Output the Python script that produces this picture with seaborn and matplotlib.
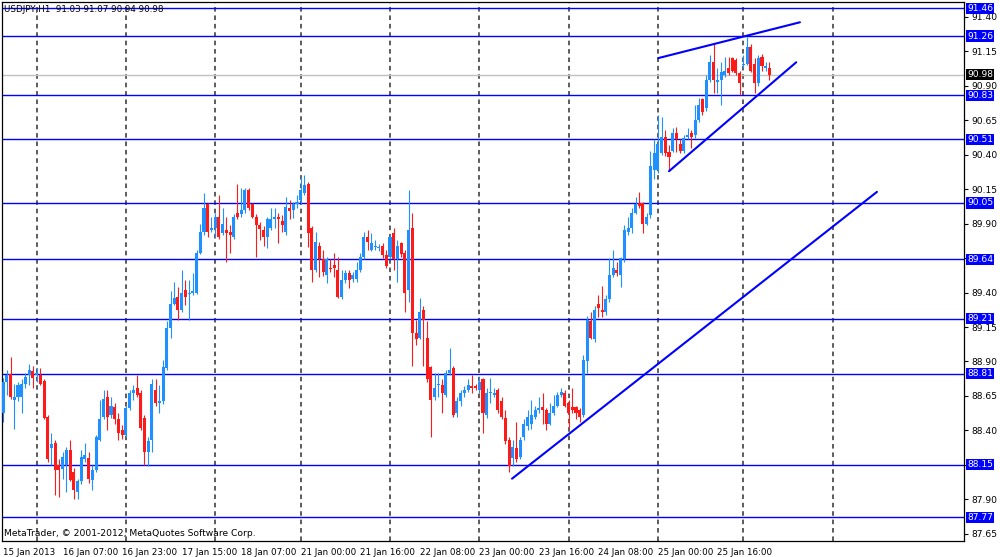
import numpy as np
import pandas as pd
import matplotlib
matplotlib.use("Agg")
import matplotlib.pyplot as plt
import matplotlib.transforms as mtransforms
import seaborn as sns

# USDJPY H1 candles (oldest first)
opens = [
    88.53, 88.75, 88.81, 88.62, 88.64, 88.64, 88.74, 88.80, 88.83, 88.80,
    88.80, 88.76, 88.50, 88.27, 88.31, 88.15, 88.12, 88.15, 88.26, 88.10,
    87.95, 88.03, 88.19, 88.20, 88.04, 88.11, 88.33, 88.50, 88.64, 88.51,
    88.57, 88.48, 88.40, 88.37, 88.56, 88.67, 88.71, 88.67, 88.49, 88.24,
    88.33, 88.69, 88.60, 88.61, 88.85, 89.14, 89.32, 89.37, 89.27, 89.42,
    89.39, 89.40, 89.40, 89.69, 89.84, 90.04, 89.85, 89.87, 89.95, 89.83,
    89.85, 89.84, 89.80, 89.98, 89.97, 90.00, 90.14, 90.04, 89.95, 89.89,
    89.85, 89.80, 89.87, 89.93, 89.95, 89.92, 89.84, 90.01, 90.00, 90.04,
    90.07, 90.12, 90.19, 89.87, 89.56, 89.74, 89.64, 89.53, 89.58, 89.60,
    89.56, 89.37, 89.49, 89.54, 89.50, 89.50, 89.56, 89.66, 89.80, 89.71,
    89.73, 89.72, 89.74, 89.67, 89.66, 89.83, 89.64, 89.76, 89.69, 89.42,
    89.87, 89.11, 89.07, 89.27, 89.07, 88.86, 88.64, 88.73, 88.73, 88.66,
    88.82, 88.85, 88.53, 88.61, 88.67, 88.69, 88.72, 88.72, 88.69, 88.77,
    88.51, 88.67, 88.66, 88.69, 88.61, 88.49, 88.33, 88.20, 88.27, 88.21,
    88.35, 88.43, 88.45, 88.50, 88.55, 88.57, 88.55, 88.45, 88.53, 88.58,
    88.66, 88.67, 88.60, 88.57, 88.57, 88.55, 88.51, 88.90, 89.19, 89.06,
    89.32, 89.27, 89.26, 89.35, 89.53, 89.56, 89.53, 89.64, 89.84, 89.87,
    89.98, 90.05, 90.05, 89.90, 89.96, 90.29, 90.29, 90.41, 90.53, 90.42,
    90.43, 90.56, 90.48, 90.43, 90.53, 90.56, 90.54, 90.65, 90.80, 90.74,
    90.94, 91.07, 90.93, 90.94, 90.98, 91.03, 91.10, 91.09, 90.99, 91.05,
    91.06, 91.18, 91.06, 90.92, 91.11, 91.03, 91.03,
]
highs = [
    88.78, 88.84, 88.93, 88.74, 88.75, 88.77, 88.82, 88.88, 88.87, 88.85,
    88.85, 88.77, 88.51, 88.38, 88.33, 88.19, 88.24, 88.28, 88.33, 88.13,
    88.05, 88.26, 88.31, 88.24, 88.15, 88.37, 88.62, 88.69, 88.69, 88.64,
    88.60, 88.53, 88.44, 88.58, 88.69, 88.73, 88.80, 88.69, 88.51, 88.35,
    88.77, 88.77, 88.73, 88.91, 89.19, 89.41, 89.48, 89.44, 89.56, 89.49,
    89.49, 89.54, 89.71, 89.90, 90.12, 90.05, 89.95, 89.98, 90.11, 90.01,
    89.95, 89.89, 89.97, 90.19, 90.16, 90.16, 90.16, 90.05, 89.97, 89.91,
    89.88, 89.95, 90.01, 90.01, 89.98, 89.96, 90.09, 90.07, 90.06, 90.11,
    90.24, 90.25, 90.20, 89.88, 89.84, 89.77, 89.71, 89.66, 89.64, 89.69,
    89.66, 89.56, 89.56, 89.56, 89.55, 89.62, 89.69, 89.84, 89.85, 89.83,
    89.78, 89.75, 89.76, 89.71, 89.82, 89.87, 89.78, 89.77, 89.71, 90.14,
    89.98, 89.20, 89.36, 89.30, 89.19, 88.87, 88.82, 88.82, 88.77, 88.84,
    89.00, 88.87, 88.64, 88.69, 88.72, 88.77, 88.80, 88.74, 88.79, 88.78,
    88.71, 88.78, 88.71, 88.71, 88.64, 88.55, 88.35, 88.33, 88.46, 88.35,
    88.48, 88.55, 88.62, 88.58, 88.64, 88.67, 88.56, 88.60, 88.66, 88.68,
    88.71, 88.69, 88.62, 88.71, 88.58, 88.56, 88.95, 89.23, 89.26, 89.30,
    89.38, 89.45, 89.38, 89.65, 89.71, 89.62, 89.66, 89.89, 89.95, 90.01,
    90.09, 90.13, 90.06, 89.98, 90.43, 90.51, 90.69, 90.67, 90.58, 90.47,
    90.59, 90.60, 90.51, 90.54, 90.59, 90.58, 90.76, 90.81, 90.81, 90.98,
    91.12, 91.20, 91.03, 91.07, 91.11, 91.11, 91.11, 91.10, 91.01, 91.12,
    91.25, 91.20, 91.10, 91.12, 91.13, 91.07, 91.07,
]
lows = [
    88.46, 88.66, 88.63, 88.41, 88.61, 88.53, 88.71, 88.73, 88.71, 88.75,
    88.73, 88.48, 88.17, 88.15, 87.93, 87.92, 88.05, 87.95, 88.03, 87.90,
    87.90, 88.01, 88.17, 88.02, 87.97, 88.10, 88.32, 88.48, 88.40, 88.49,
    88.45, 88.33, 88.34, 88.35, 88.55, 88.62, 88.64, 88.40, 88.15, 88.14,
    88.24, 88.58, 88.53, 88.59, 88.84, 89.07, 89.31, 89.20, 89.26, 89.31,
    89.20, 89.38, 89.39, 89.68, 89.82, 89.80, 89.84, 89.80, 89.79, 89.82,
    89.62, 89.69, 89.79, 89.93, 89.95, 89.98, 90.00, 89.94, 89.66, 89.78,
    89.74, 89.72, 89.85, 89.87, 89.76, 89.84, 89.82, 89.93, 89.94, 90.01,
    90.04, 90.11, 89.73, 89.48, 89.55, 89.51, 89.52, 89.47, 89.55, 89.51,
    89.36, 89.35, 89.47, 89.43, 89.48, 89.48, 89.55, 89.64, 89.71, 89.70,
    89.71, 89.70, 89.65, 89.58, 89.64, 89.56, 89.48, 89.66, 89.26, 89.33,
    88.87, 89.02, 89.06, 88.87, 88.75, 88.35, 88.62, 88.64, 88.53, 88.64,
    88.80, 88.50, 88.50, 88.58, 88.64, 88.68, 88.67, 88.69, 88.67, 88.38,
    88.49, 88.60, 88.64, 88.53, 88.48, 88.30, 88.10, 88.14, 88.17, 88.19,
    88.33, 88.40, 88.41, 88.48, 88.53, 88.45, 88.40, 88.44, 88.51, 88.57,
    88.64, 88.57, 88.42, 88.53, 88.48, 88.46, 88.50, 88.82, 89.06, 89.04,
    89.22, 89.22, 89.24, 89.33, 89.51, 89.52, 89.44, 89.62, 89.82, 89.83,
    89.97, 90.01, 89.83, 89.89, 89.94, 90.22, 90.27, 90.40, 90.39, 90.29,
    90.42, 90.42, 90.41, 90.41, 90.51, 90.45, 90.52, 90.64, 90.69, 90.72,
    90.93, 90.85, 90.85, 90.76, 90.96, 90.98, 91.00, 90.98, 90.83, 91.03,
    91.05, 91.00, 90.85, 90.90, 91.01, 91.01, 90.94,
]
closes = [
    88.75, 88.80, 88.64, 88.64, 88.73, 88.74, 88.79, 88.84, 88.78, 88.82,
    88.74, 88.49, 88.19, 88.30, 88.11, 88.11, 88.21, 88.26, 88.04, 87.97,
    88.03, 88.21, 88.22, 88.05, 88.11, 88.35, 88.48, 88.63, 88.50, 88.58,
    88.48, 88.38, 88.37, 88.56, 88.67, 88.69, 88.66, 88.42, 88.24, 88.32,
    88.74, 88.60, 88.61, 88.86, 89.14, 89.32, 89.36, 89.27, 89.40, 89.37,
    89.40, 89.41, 89.69, 89.84, 90.01, 89.84, 89.87, 89.95, 89.80, 89.90,
    89.83, 89.82, 89.95, 89.95, 90.00, 90.14, 90.01, 89.95, 89.89, 89.86,
    89.80, 89.93, 89.93, 89.95, 89.93, 89.89, 90.02, 89.99, 90.04, 90.06,
    90.14, 90.18, 89.83, 89.56, 89.77, 89.64, 89.55, 89.64, 89.57, 89.58,
    89.37, 89.49, 89.54, 89.49, 89.53, 89.56, 89.66, 89.80, 89.77, 89.76,
    89.74, 89.73, 89.67, 89.59, 89.80, 89.64, 89.74, 89.68, 89.40, 89.85,
    89.11, 89.06, 89.26, 89.20, 88.77, 88.62, 88.71, 88.74, 88.67, 88.82,
    88.84, 88.51, 88.61, 88.67, 88.69, 88.73, 88.71, 88.71, 88.75, 88.53,
    88.67, 88.68, 88.67, 88.55, 88.50, 88.32, 88.14, 88.28, 88.19, 88.33,
    88.45, 88.50, 88.51, 88.55, 88.56, 88.55, 88.45, 88.53, 88.58, 88.66,
    88.68, 88.58, 88.53, 88.55, 88.53, 88.50, 88.91, 89.20, 89.07, 89.27,
    89.29, 89.26, 89.35, 89.53, 89.58, 89.54, 89.65, 89.85, 89.87, 89.98,
    90.04, 90.03, 89.90, 89.95, 90.32, 90.41, 90.48, 90.53, 90.41, 90.38,
    90.56, 90.51, 90.43, 90.52, 90.54, 90.53, 90.65, 90.76, 90.71, 90.94,
    91.07, 90.94, 90.94, 91.00, 91.01, 90.99, 91.01, 90.99, 90.92, 91.06,
    91.18, 91.01, 90.92, 91.10, 91.04, 91.04, 90.98,
]

# horizontal price levels drawn on the chart
levels = [91.46, 91.26, 90.83, 90.51, 90.05, 89.64, 89.21, 88.81, 88.15, 87.77]
last_price = 90.98

# trend lines: (bar, price) end points
trend_bars = [[136.8, 234.9], [179.0, 213.2], [176.1, 214.2]]
trend_prices = [[88.05, 90.13], [90.28, 91.07], [91.10, 91.36]]

# time axis
tick_bars = [0, 16, 32, 48, 64, 80, 96, 112, 128, 144, 160, 176, 192]
tick_labels = ["15 Jan 2013", "16 Jan 07:00", "16 Jan 23:00", "17 Jan 15:00",
               "18 Jan 07:00", "21 Jan 00:00", "21 Jan 16:00", "22 Jan 08:00",
               "23 Jan 00:00", "23 Jan 16:00", "24 Jan 08:00", "25 Jan 00:00",
               "25 Jan 16:00"]
grid_bars = [9, 33, 57, 80, 104, 128, 152, 176, 199, 223]

price_ticks = [87.65, 87.90, 88.15, 88.40, 88.65, 88.90, 89.15, 89.40,
               89.65, 89.90, 90.15, 90.40, 90.65, 90.90, 91.15, 91.40]
hidden_ticks = [88.15, 89.65]

sns.set_style("white")
plt.rcParams["font.family"] = ["DejaVu Sans"]

df = pd.DataFrame({"open": opens, "high": highs, "low": lows, "close": closes})
df["bar"] = np.arange(len(df))
df["up"] = df["close"] >= df["open"]

BULL = "#1E90FF"
BEAR = "#FF1A1A"
LINE_BLUE = "#0000FF"

fig = plt.figure(figsize=(10, 5.57), dpi=100)
ax = fig.add_axes([0.002, 0.0287, 0.962, 0.9677])

ax.set_xlim(-0.3, 258.3)
ax.set_ylim(87.598, 91.507)

# vertical dashed grid
for gb in grid_bars:
    ax.axvline(gb, color="#303030", lw=1.1, ls=(0, (3, 2.5)), zorder=1)

# price levels
ax.axhline(last_price, color="#C0C0C0", lw=1.0, zorder=1.5)
for lv in levels:
    ax.axhline(lv, color=LINE_BLUE, lw=1.0, zorder=1.6)

# candles
colors = np.where(df["up"], BULL, BEAR)
ax.vlines(df["bar"], df["low"], df["high"], colors=colors, lw=0.8, zorder=2)
body_low = df[["open", "close"]].min(axis=1)
body_h = (df["close"] - df["open"]).abs().clip(lower=0.006)
ax.bar(df["bar"], body_h, bottom=body_low, width=0.82, color=colors,
       linewidth=0, zorder=3)

# trend lines
for xs, ys in zip(trend_bars, trend_prices):
    sns.lineplot(x=xs, y=ys, ax=ax, color=LINE_BLUE, lw=1.5, zorder=4)

# axes styling
for sp in ax.spines.values():
    sp.set_color("black")
    sp.set_linewidth(0.9)

ax.set_xticks(tick_bars)
ax.set_xticklabels(tick_labels)
for lab in ax.get_xticklabels():
    lab.set_ha("left")
ax.tick_params(axis="x", direction="out", length=3, width=0.8, pad=2,
               labelsize=6.3, colors="black")

ax.yaxis.tick_right()
ax.set_yticks(price_ticks)
ax.set_yticklabels(["" if t in hidden_ticks else f"{t:.2f}" for t in price_ticks])
ax.tick_params(axis="y", direction="out", length=3, width=0.8, pad=2,
               labelsize=6.6, colors="black")
ax.set_xlabel("")
ax.set_ylabel("")

# price boxes on the right axis
trans = mtransforms.blended_transform_factory(ax.transAxes, ax.transData)
for lv in levels:
    ax.text(1.003, lv, f"{lv:.2f}", transform=trans, ha="left", va="center",
            fontsize=6.6, color="white", zorder=10, clip_on=False,
            bbox=dict(boxstyle="square,pad=0.12", fc=LINE_BLUE, ec="none"))
ax.text(1.003, last_price, f"{last_price:.2f}", transform=trans, ha="left",
        va="center", fontsize=6.6, color="white", zorder=10, clip_on=False,
        bbox=dict(boxstyle="square,pad=0.12", fc="black", ec="none"))

# header and copyright
fig.text(0.004, 1 - 9 / 557, "USDJPY,H1  91.03 91.07 90.94 90.98",
         fontsize=6.3, color="black", ha="left", va="center")
fig.text(0.004, 1 - 534 / 557, "MetaTrader, © 2001-2012, MetaQuotes Software Corp.",
         fontsize=6.6, color="black", ha="left", va="center")

fig.savefig("out.png", dpi=100)
